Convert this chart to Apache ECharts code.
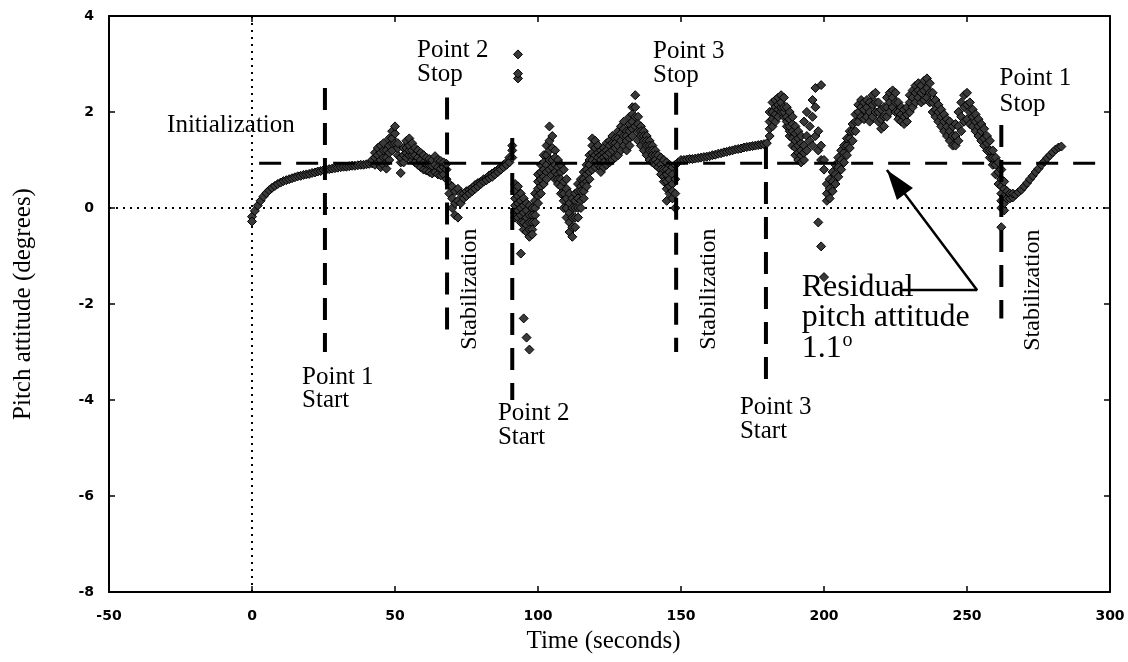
<!DOCTYPE html>
<html><head><meta charset="utf-8">
<script src="https://cdn.jsdelivr.net/npm/echarts@6.0.0/dist/echarts.min.js"></script>
<style>html,body{margin:0;padding:0;background:#fff}#c{width:1128px;height:662px}</style>
</head><body><div id="c"></div><script>
// ---- axis ticks ----
const xTicks = [-50, 0, 50, 100, 150, 200, 250, 300];
const yTicks = [-8, -6, -4, -2, 0, 2, 4];

// ---- pitch attitude samples: [time, value, value, ...] ----
const segInit = [
[0,-0.18,-0.28],[1,-0.06],[2,0.05],[3,0.15],[4,0.24],[5,0.31],[6,0.37],[7,0.42],[8,0.46],[9,0.5],
[10,0.53],[11,0.56],[12,0.58],[13,0.6],[14,0.62],[15,0.64],[16,0.66],[17,0.67],[18,0.69],[19,0.7],
[20,0.71],[21,0.73],[22,0.74],[23,0.76],[24,0.77],[25,0.79],[26,0.8],[27,0.81],[28,0.82],[29,0.83],
[30,0.84],[31,0.85],[32,0.86],[33,0.86],[34,0.87],[35,0.88],[36,0.88],[37,0.89],[38,0.9],[39,0.9],
[40,0.91],[41,0.92]
];
const segPoint1 = [
[42,0.93,1.0],[43,0.9,1.05,1.15],[44,0.95,1.1,1.25],[45,0.85,1.0,1.15,1.3],[46,0.9,1.05,1.2,1.35],
[47,0.82,0.95,1.05,1.2],[48,1.0,1.15,1.3,1.45],[49,1.2,1.35,1.45,1.6],[50,1.35,1.55,1.7],[51,1.1,1.25,1.35],
[52,0.73,0.95,1.05],[53,0.95,1.1,1.25],[54,1.05,1.15,1.25,1.4],[55,1.1,1.2,1.3,1.45],[56,1.0,1.1,1.2,1.35],
[57,0.95,1.1,1.25],[58,0.9,1.05,1.2],[59,0.85,1.0,1.15],[60,0.8,0.95,1.1],[61,0.78,0.92,1.05],
[62,0.75,0.9,1.02],[63,0.72,0.88,1.0],[64,0.75,0.9,1.08],[65,0.7,0.85,1.0],[66,0.68,0.82,0.98],
[67,0.7,0.85,0.95],[68,0.6,0.8,0.92]
];
const segStab1 = [
[69,0.5,0.3],[70,0.45,0.2,0.0],[71,0.35,0.1,-0.15],[72,0.4,0.15,-0.2],[73,0.3,0.1],[74,0.3,0.2],
[75,0.35,0.25],[76,0.38,0.3],[77,0.42,0.35],[78,0.48,0.4],[79,0.52,0.45],[80,0.55,0.5],
[81,0.6,0.55],[82,0.62,0.58],[83,0.68,0.62],[84,0.72,0.65],[85,0.76,0.7],[86,0.8,0.75],
[87,0.85,0.8],[88,0.9,0.85],[89,0.95,0.9],[90,1.05,0.95],[91,1.2,1.05,1.3]
];
const segPoint2 = [
[92,0.5,0.35,0.2,0.05,-0.1,-0.2],[93,0.45,0.25,0.1,-0.05,-0.2,3.2,2.7,2.8],[94,0.3,0.15,0.0,-0.15,-0.3,-0.95],
[95,0.2,0.05,-0.1,-0.3,-0.45,-2.3],[96,0.1,-0.05,-0.2,-0.35,-0.5,-2.7],[97,0.05,-0.15,-0.3,-0.45,-0.6,-2.95],
[98,0.0,-0.15,-0.3,-0.45,-0.55],[99,0.3,0.15,0.0,-0.15,-0.3],[100,0.7,0.55,0.4,0.25,0.1],
[101,0.9,0.75,0.6,0.45,0.3],[102,1.1,0.95,0.8,0.65,0.5],[103,1.3,1.1,0.9,0.75,0.6],
[104,1.7,1.4,1.2,1.0,0.8],[105,1.5,1.25,1.0,0.85,0.7],[106,1.2,1.05,0.9,0.75,0.6],
[107,1.0,0.85,0.7,0.6,0.5],[108,0.9,0.75,0.6,0.45,0.3],[109,0.8,0.55,0.3,0.15,0.0],
[110,0.6,0.4,0.2,0.0,-0.2],[111,0.3,0.1,-0.1,-0.3,-0.5],[112,0.2,0.0,-0.2,-0.4,-0.6],
[113,0.3,0.15,0.0,-0.2,-0.4],[114,0.5,0.35,0.2,0.0,-0.2],[115,0.6,0.45,0.35,0.15,0.0],
[116,0.75,0.6,0.5,0.35,0.2],[117,0.9,0.8,0.7,0.55,0.45],[118,1.1,1.0,0.9,0.75,0.6],
[119,1.45,1.3,1.15,1.0,0.8],[120,1.4,1.25,1.1,0.95,0.85],[121,1.3,1.15,1.05,0.9],
[122,1.2,1.1,1.0,0.85,0.75],[123,1.25,1.15,1.05,0.95,0.85],[124,1.35,1.2,1.1,0.9],
[125,1.4,1.3,1.15,0.95],[126,1.5,1.35,1.2,1.0],[127,1.45,1.35,1.25,1.05],[128,1.6,1.45,1.3,1.1],
[129,1.7,1.55,1.4,1.2],[130,1.8,1.65,1.5,1.3],[131,1.6,1.5,1.4,1.2],[132,1.9,1.75,1.6,1.45,1.3],
[133,2.1,1.95,1.8,1.65,1.5],[134,2.35,2.1,1.9,1.7],[135,1.9,1.75,1.6,1.4],[136,1.7,1.6,1.5,1.3],
[137,1.6,1.5,1.4,1.2],[138,1.5,1.4,1.3,1.1],[139,1.4,1.3,1.2,1.0],[140,1.3,1.2,1.1,0.95],
[141,1.2,1.1,1.0,0.9],[142,1.1,0.95,0.85],[143,1.05,0.9,0.8,0.7],[144,1.0,0.8,0.65,0.55],
[145,0.95,0.8,0.7,0.55,0.4,0.15],[146,0.9,0.75,0.6,0.45,0.3],[147,0.85,0.7,0.5,0.35,0.2],[148,0.9,0.6,0.3,0.0]
];
const segStab2 = [
[149,0.95],[150,1.0],[151,1.0],[152,1.01],[153,1.02],[154,1.02],[155,1.03],[156,1.04],[157,1.05],
[158,1.06],[159,1.07],[160,1.08],[161,1.1],[162,1.11],[163,1.13],[164,1.14],[165,1.16],[166,1.17],
[167,1.19],[168,1.2],[169,1.22],[170,1.23],[171,1.24],[172,1.26],[173,1.27],[174,1.28],[175,1.29],
[176,1.3],[177,1.31],[178,1.32],[179,1.33],[180,1.35]
];
const segPoint3 = [
[181,1.5,1.65,1.8,2.0],[182,1.7,1.85,2.0,2.2],[183,1.8,1.95,2.1,2.25],[184,1.9,2.05,2.15,2.3],[185,2.0,2.1,2.2,2.35],
[186,1.9,2.0,2.1,2.3],[187,1.7,1.8,1.9,2.1],[188,1.5,1.6,1.7,1.85,2.0],[189,1.3,1.45,1.6,1.75,1.9],[190,1.1,1.25,1.4,1.55,1.7],
[191,1.0,1.15,1.3,1.45,1.6],[192,0.95,1.1,1.2,1.35,1.5],[193,1.0,1.15,1.3,1.8],[194,1.2,1.5,2.0],[195,1.4,1.7],
[196,1.3,1.9,2.25],[197,1.5,2.1,2.5],[198,1.2,1.6,-0.3],[199,1.0,1.3,-0.8,2.56],[200,0.8,1.0,-1.44],
[201,0.15,0.3,0.5],[202,0.2,0.4,0.6],[203,0.35,0.55,0.75],[204,0.5,0.7,0.9],[205,0.65,0.85,1.05],
[206,0.8,1.0,1.2],[207,0.95,1.15,1.3],[208,1.1,1.3,1.45],[209,1.25,1.45,1.6],[210,1.4,1.6,1.75],
[211,1.6,1.8,1.95],[212,1.8,2.0,2.15],[213,1.9,2.1,2.25],[214,1.85,2.05,2.2],[215,1.9,2.1,2.25],
[216,1.8,2.0,2.2],[217,1.9,2.15,2.35],[218,2.0,2.2,2.4],[219,1.8,2.0,2.2],[220,1.65,1.85,2.05],
[221,1.7,1.9,2.1],[222,1.9,2.1,2.3],[223,2.0,2.2,2.4],[224,2.1,2.3,2.45],[225,2.0,2.2,2.4],
[226,1.85,2.0,2.2],[227,1.8,1.95,2.1],[228,1.75,1.9,2.05],[229,1.8,1.95,2.1],[230,2.0,2.2,2.35],
[231,2.1,2.3,2.45],[232,2.2,2.4,2.55],[233,2.3,2.45,2.6],[234,2.2,2.4,2.55],[235,2.25,2.45,2.65],
[236,2.3,2.5,2.7],[237,2.2,2.4,2.6],[238,2.0,2.2,2.4],[239,1.9,2.05,2.25],[240,1.8,2.0,2.15],
[241,1.7,1.9,2.05],[242,1.6,1.8,1.95],[243,1.5,1.7,1.85],[244,1.4,1.6,1.8],[245,1.3,1.5,1.7],
[246,1.3,1.5,1.75],[247,1.4,1.7,2.0],[248,1.6,1.9,2.2],[249,1.8,2.1,2.35],[250,1.85,2.15,2.4],
[251,1.75,2.0,2.2],[252,1.7,1.9,2.05],[253,1.6,1.8,1.95],[254,1.5,1.7,1.85],[255,1.4,1.6,1.75],
[256,1.3,1.45,1.65],[257,1.2,1.35,1.5],[258,1.05,1.2,1.4],[259,0.9,1.05,1.2],[260,0.7,0.9,1.05],
[261,0.5,0.75,0.95],[262,0.0,0.15,0.3,0.45,0.6,0.8,-0.4]
];
const segStab3 = [
[263,-0.05,0.1,0.25,0.4,0.55],[264,0.2,0.35],[265,0.2,0.3],[266,0.22,0.3],[267,0.28],[268,0.33],[269,0.38],
[270,0.45],[271,0.52],[272,0.6],[273,0.67],[274,0.75],[275,0.82],[276,0.9],[277,0.97],[278,1.04],
[279,1.1],[280,1.16],[281,1.22],[282,1.26],[283,1.28]
];

// ---- event markers (time, top, bottom) ----
const eventTimes = [25.5, 68.2, 91.0, 148.3, 179.7, 262.0];
const eventTops = [2.5, 2.3, 1.46, 2.4, 1.27, 1.73];
const eventBottoms = [-3.0, -2.7, -4.0, -3.0, -3.65, -2.3];

// residual pitch attitude reference line
const residualLevel = 0.93;
const residualFrom = 2.5;

// arrow path (data coords)
const arrowPath = [[227.3, -1.71], [253.5, -1.71], [222.0, 0.79]];

// annotations: [text, x, y, kind]
const annotations = [
  ['Initialization', -29.7, 1.71, 'big'],
  ['Point 2', 57.7, 3.29, 'big'], ['Stop', 57.7, 2.79, 'big'],
  ['Point 3', 140.2, 3.27, 'big'], ['Stop', 140.2, 2.77, 'big'],
  ['Point 1', 261.4, 2.69, 'big'], ['Stop', 261.4, 2.15, 'big'],
  ['Point 1', 17.5, -3.52, 'big'], ['Start', 17.5, -4.0, 'big'],
  ['Point 2', 86.0, -4.27, 'big'], ['Start', 86.0, -4.77, 'big'],
  ['Point 3', 170.6, -4.15, 'big'], ['Start', 170.6, -4.65, 'big'],
  ['Residual', 192.2, -1.65, 'huge'], ['pitch attitude', 192.2, -2.29, 'huge'],
  ['1.1', 192.2, -2.92, 'huge'], ['o', 206.5, -2.77, 'sup']
];
const stabLabels = [['Stabilization', 76.2, -1.69], ['Stabilization', 159.7, -1.69], ['Stabilization', 273.0, -1.71]];

const xTitle = 'Time (seconds)';
const yTitle = 'Pitch attitude (degrees)';

// ---- build ----
const allSegs = [segInit, segPoint1, segStab1, segPoint2, segStab2, segPoint3, segStab3];
const pts = [];
allSegs.forEach(seg => seg.forEach(row => { for (let i = 1; i < row.length; i++) pts.push([row[0], row[i]]); }));

const chart = echarts.init(document.getElementById('c'), null, {renderer: 'canvas'});
const serif = '"Liberation Serif", "DejaVu Serif", serif';
const axisBase = {
  type: 'value', min: -50, max: 300, interval: 50,
  axisLine: {show: true, onZero: false, lineStyle: {color: '#000', width: 2}},
  axisTick: {show: true, inside: true, length: 6, lineStyle: {color: '#000', width: 1.5}},
  splitLine: {show: false}
};
const series = [];
series.push({
  type: 'scatter', data: pts, symbol: 'diamond', symbolSize: 9, z: 3,
  itemStyle: {color: '#3a3a3a', borderColor: '#000', borderWidth: 1, opacity: 1},
  animation: false, silent: true
});
eventTimes.forEach((t, i) => {
  series.push({type: 'line', data: [[t, eventTops[i]], [t, eventBottoms[i]]], symbol: 'none', z: 4,
    lineStyle: {color: '#000', width: 4, type: [22, 13]}, animation: false, silent: true});
});
series.push({type: 'line', data: [[residualFrom, residualLevel], [300, residualLevel]], symbol: 'none', z: 4,
  lineStyle: {color: '#000', width: 3, type: [22, 15]}, animation: false, silent: true});
series.push({type: 'line', data: [[0, -8], [0, 4]], symbol: 'none', z: 2,
  lineStyle: {color: '#000', width: 2, type: [2, 5]}, animation: false, silent: true});
series.push({type: 'line', data: [[-50, 0], [300, 0]], symbol: 'none', z: 2,
  lineStyle: {color: '#000', width: 2, type: [2, 5]}, animation: false, silent: true});
series.push({type: 'line', data: arrowPath, symbol: 'none', z: 5,
  lineStyle: {color: '#000', width: 2.5}, animation: false, silent: true});

const tickFont = {show: true, color: '#000', fontFamily: '"DejaVu Sans", sans-serif', fontSize: 14, fontWeight: 'bold'};
chart.setOption({
  animation: false,
  backgroundColor: '#fff',
  grid: {left: 109, right: 18, top: 16, bottom: 70, containLabel: false},
  xAxis: [
    Object.assign({}, axisBase, {position: 'bottom', axisLabel: Object.assign({margin: 17}, tickFont)}),
    Object.assign({}, axisBase, {position: 'top', axisLabel: {show: false}})
  ],
  yAxis: [
    Object.assign({}, axisBase, {min: -8, max: 4, interval: 2, position: 'left',
      axisLabel: Object.assign({margin: 15}, tickFont)}),
    Object.assign({}, axisBase, {min: -8, max: 4, interval: 2, position: 'right', axisLabel: {show: false}})
  ],
  series: series
});

const P = (x, y) => chart.convertToPixel({xAxisIndex: 0, yAxisIndex: 0}, [x, y]);
const graphics = [];
const sizes = {big: 25, huge: 32, sup: 20};
annotations.forEach(a => {
  const p = P(a[1], a[2]);
  graphics.push({type: 'text', x: p[0], y: p[1], z: 10, silent: true,
    style: {text: a[0], font: sizes[a[3]] + 'px ' + serif, fill: '#000', align: 'left', verticalAlign: 'middle'}});
});
stabLabels.forEach(a => {
  const p = P(a[1], a[2]);
  graphics.push({type: 'text', x: p[0], y: p[1], rotation: Math.PI / 2, z: 10, silent: true,
    style: {text: a[0], font: '24px ' + serif, fill: '#000', align: 'center', verticalAlign: 'middle'}});
});
// arrow head
const tip = P(arrowPath[2][0], arrowPath[2][1]);
const from = P(arrowPath[1][0], arrowPath[1][1]);
const dx = tip[0] - from[0], dy = tip[1] - from[1], L = Math.hypot(dx, dy);
const ux = dx / L, uy = dy / L, hl = 30, hw = 10;
const bx = tip[0] - ux * hl, by = tip[1] - uy * hl;
graphics.push({type: 'polygon', z: 11, silent: true,
  shape: {points: [[tip[0], tip[1]], [bx - uy * hw, by + ux * hw], [bx + uy * hw, by - ux * hw]]},
  style: {fill: '#000'}});
const xc = P(125, -8), yc = P(-50, -2);
graphics.push({type: 'text', x: xc[0] - 6, y: 641, z: 10, silent: true,
  style: {text: xTitle, font: '25px ' + serif, fill: '#000', align: 'center', verticalAlign: 'middle'}});
graphics.push({type: 'text', x: 23, y: yc[1], rotation: Math.PI / 2, z: 10, silent: true,
  style: {text: yTitle, font: '25px ' + serif, fill: '#000', align: 'center', verticalAlign: 'middle'}});
chart.setOption({graphic: graphics});
</script></body></html>
